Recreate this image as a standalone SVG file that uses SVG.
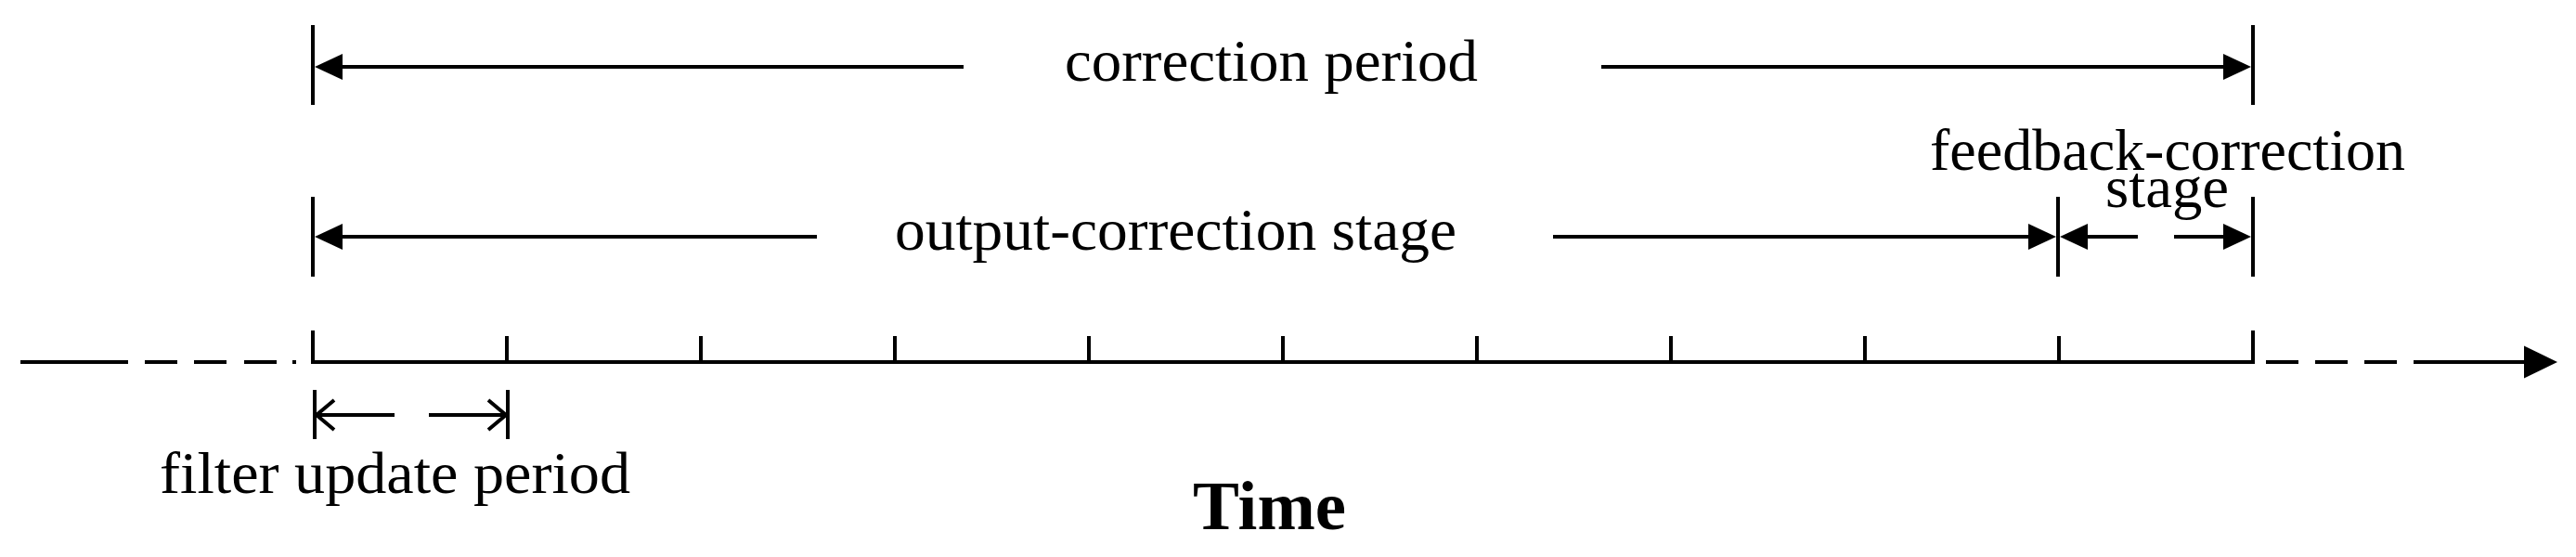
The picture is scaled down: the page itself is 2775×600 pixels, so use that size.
<svg xmlns="http://www.w3.org/2000/svg" width="2775" height="600" viewBox="0 0 2775 600">
  <style>
    .ln { stroke: #000; stroke-width: 4; fill: none; stroke-linecap: butt; }
    .lbl { font-family: "Liberation Serif", "Times New Roman", serif; font-size: 64px; fill: #000; }
    .ttl { font-family: "Liberation Serif", "Times New Roman", serif; font-size: 73px; font-weight: bold; fill: #000; }
  </style>
  <defs>
    <marker id="solid" viewBox="0 0 30 28" refX="22" refY="14" markerWidth="30" markerHeight="28" markerUnits="userSpaceOnUse" orient="auto">
      <path d="M0,0 L30,14 L0,28 Z" fill="#000"/>
    </marker>
    <marker id="open" viewBox="-2 -2 23 36" refX="19" refY="16" markerWidth="23" markerHeight="36" markerUnits="userSpaceOnUse" orient="auto">
      <path d="M0,0 L19,16 L0,32" fill="none" stroke="#000" stroke-width="4"/>
    </marker>
  </defs>
  <rect width="2775" height="600" fill="#fff"/>

  <g id="time-axis">
    <line class="ln" x1="22" y1="390" x2="138" y2="390"/>
    <line class="ln" x1="156" y1="390" x2="191" y2="390"/>
    <line class="ln" x1="209" y1="390" x2="244" y2="390"/>
    <line class="ln" x1="263" y1="390" x2="298" y2="390"/>
    <line class="ln" x1="315" y1="390" x2="319" y2="390"/>
    <line class="ln" x1="335" y1="390" x2="2429" y2="390"/>
    <line class="ln" x1="2441" y1="390" x2="2476" y2="390"/>
    <line class="ln" x1="2494" y1="390" x2="2529" y2="390"/>
    <line class="ln" x1="2547" y1="390" x2="2582" y2="390"/>
    <line class="ln" x1="2600" y1="390" x2="2720" y2="390"/>
    <polygon points="2719,372.5 2755,390 2719,407.5" fill="#000"/>
  </g>

  <g id="ticks">
    <line class="ln" x1="337" y1="356" x2="337" y2="392"/>
    <line class="ln" x1="546" y1="362" x2="546" y2="390"/>
    <line class="ln" x1="755" y1="362" x2="755" y2="390"/>
    <line class="ln" x1="964" y1="362" x2="964" y2="390"/>
    <line class="ln" x1="1173" y1="362" x2="1173" y2="390"/>
    <line class="ln" x1="1382" y1="362" x2="1382" y2="390"/>
    <line class="ln" x1="1591" y1="362" x2="1591" y2="390"/>
    <line class="ln" x1="1800" y1="362" x2="1800" y2="390"/>
    <line class="ln" x1="2009" y1="362" x2="2009" y2="390"/>
    <line class="ln" x1="2218" y1="362" x2="2218" y2="390"/>
    <line class="ln" x1="2427" y1="356" x2="2427" y2="392"/>
  </g>

  <g id="extension-lines">
    <line class="ln" x1="337" y1="27" x2="337" y2="113"/>
    <line class="ln" x1="2427" y1="27" x2="2427" y2="113"/>
    <line class="ln" x1="337" y1="212" x2="337" y2="298"/>
    <line class="ln" x1="2217" y1="212" x2="2217" y2="298"/>
    <line class="ln" x1="2427" y1="212" x2="2427" y2="298"/>
    <line class="ln" x1="339" y1="420" x2="339" y2="473"/>
    <line class="ln" x1="547" y1="420" x2="547" y2="473"/>
  </g>

  <g id="connectors">
    <line class="ln" x1="1038" y1="72" x2="347" y2="72" marker-end="url(#solid)"/>
    <line class="ln" x1="1725" y1="72" x2="2417" y2="72" marker-end="url(#solid)"/>
    <line class="ln" x1="880" y1="255" x2="347" y2="255" marker-end="url(#solid)"/>
    <line class="ln" x1="1673" y1="255" x2="2207" y2="255" marker-end="url(#solid)"/>
    <line class="ln" x1="2303" y1="255" x2="2227" y2="255" marker-end="url(#solid)"/>
    <line class="ln" x1="2342" y1="255" x2="2417" y2="255" marker-end="url(#solid)"/>
    <line class="ln" x1="425" y1="447" x2="341" y2="447" marker-end="url(#open)"/>
    <line class="ln" x1="462" y1="447" x2="545" y2="447" marker-end="url(#open)"/>
  </g>

  <g id="label-correction-period">
    <text class="lbl" x="1147" y="87" textLength="445" lengthAdjust="spacingAndGlyphs">correction period</text>
  </g>
  <g id="label-output-correction-stage">
    <text class="lbl" x="964" y="269" textLength="605" lengthAdjust="spacingAndGlyphs">output-correction stage</text>
  </g>
  <g id="label-feedback-correction-stage">
    <text class="lbl" x="2079" y="183" textLength="512" lengthAdjust="spacingAndGlyphs">feedback-correction</text>
    <text class="lbl" x="2268" y="223" textLength="133" lengthAdjust="spacingAndGlyphs">stage</text>
  </g>
  <g id="label-filter-update-period">
    <text class="lbl" x="172" y="531" textLength="507" lengthAdjust="spacingAndGlyphs">filter update period</text>
  </g>
  <g id="label-time">
    <text class="ttl" x="1285" y="570" textLength="165" lengthAdjust="spacingAndGlyphs">Time</text>
  </g>
</svg>
